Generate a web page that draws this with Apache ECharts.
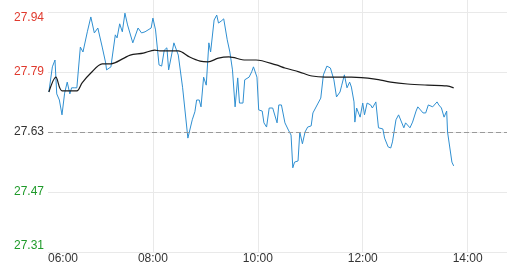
<!DOCTYPE html>
<html>
<head>
<meta charset="utf-8">
<script src="https://cdn.jsdelivr.net/npm/echarts@6/dist/echarts.min.js"></script>
<style>html,body{margin:0;padding:0;background:#fff}#c{width:507px;height:267px}</style>
</head>
<body>
<div id="c"></div>
<script>
// ---- data ----
var prevClose = 27.625;
var tickStep = 0.1575;
var priceTickLabels = ['27.31', '27.47', '27.63', '27.79', '27.94'];
var timeTickLabels = ['06:00', '08:00', '10:00', '12:00', '14:00'];

var priceTimes = ['06:01','06:05','06:08','06:10','06:13','06:16','06:19','06:22','06:25','06:27','06:30','06:33','06:37','06:40','06:45','06:49','06:53','06:55','06:57','07:02','07:06','07:07','07:12','07:13','07:17','07:19','07:22','07:25','07:28','07:31','07:37','07:43','07:47','07:51','07:53','07:58','08:00','08:03','08:07','08:10','08:13','08:16','08:18','08:22','08:24','08:29','08:34','08:40','08:45','08:48','08:50','08:53','08:55','08:58','09:01','09:04','09:06','09:10','09:13','09:15','09:18','09:21','09:25','09:28','09:31','09:34','09:37','09:39','09:43','09:45','09:50','09:53','09:55','09:59','10:01','10:05','10:07','10:10','10:13','10:17','10:22','10:24','10:27','10:31','10:33','10:35','10:38','10:40','10:42','10:46','10:48','10:51','10:54','10:57','11:01','11:03','11:05','11:09','11:12','11:15','11:19','11:23','11:27','11:30','11:34','11:36','11:39','11:42','11:45','11:47','11:50','11:51','11:53','11:57','12:00','12:02','12:05','12:09','12:11','12:15','12:18','12:23','12:25','12:29','12:32','12:34','12:38','12:41','12:43','12:47','12:49','12:54','12:57','13:01','13:03','13:06','13:09','13:12','13:15','13:20','13:25','13:27','13:30','13:33','13:36','13:37','13:42','13:44'];
var priceValues = [27.730,27.796,27.814,27.725,27.709,27.670,27.727,27.756,27.725,27.741,27.741,27.741,27.848,27.835,27.888,27.927,27.885,27.888,27.898,27.848,27.806,27.788,27.796,27.814,27.880,27.872,27.909,27.888,27.937,27.906,27.859,27.898,27.885,27.888,27.885,27.898,27.924,27.893,27.801,27.798,27.840,27.846,27.788,27.835,27.859,27.827,27.741,27.609,27.657,27.678,27.709,27.709,27.691,27.769,27.748,27.859,27.835,27.919,27.932,27.911,27.916,27.922,27.867,27.835,27.788,27.691,27.767,27.701,27.701,27.762,27.769,27.783,27.796,27.769,27.683,27.680,27.649,27.638,27.688,27.688,27.649,27.696,27.696,27.649,27.651,27.630,27.617,27.531,27.546,27.549,27.625,27.594,27.625,27.638,27.641,27.675,27.678,27.701,27.714,27.775,27.798,27.793,27.762,27.717,27.730,27.748,27.775,27.741,27.756,27.743,27.704,27.651,27.688,27.664,27.701,27.670,27.701,27.696,27.688,27.704,27.636,27.633,27.609,27.586,27.583,27.599,27.657,27.670,27.672,27.636,27.649,27.636,27.651,27.680,27.691,27.683,27.675,27.675,27.696,27.691,27.704,27.696,27.688,27.664,27.680,27.625,27.546,27.536];

var avgTimes = ['06:01','06:09','06:16','06:33','06:39','06:49','07:02','07:12','07:27','07:34','07:49','08:02','08:08','08:29','08:42','08:54','09:03','09:15','09:27','09:46','09:58','10:21','10:31','10:47','11:02','11:17','11:47','12:14','12:32','12:51','13:14','13:36','13:44'];
var avgValues = [27.730,27.769,27.733,27.733,27.754,27.780,27.804,27.804,27.819,27.827,27.832,27.840,27.838,27.838,27.822,27.811,27.809,27.819,27.822,27.814,27.814,27.801,27.793,27.783,27.772,27.769,27.769,27.764,27.756,27.751,27.748,27.746,27.741];

// ---- helpers ----
function toMin(t) { var p = t.split(':'); return (+p[0] - 6) * 60 + (+p[1]); }
function toUnit(v) { return (v - prevClose) / tickStep; }
function pairs(times, vals) { return times.map(function (t, i) { return [toMin(t), toUnit(vals[i])]; }); }

var RED = '#e03a2e', GREEN = '#1f9a2a', MID = '#333';
var FONT = 'Liberation Sans, Arial, sans-serif';

var chart = echarts.init(document.getElementById('c'), null, { renderer: 'canvas' });
chart.setOption({
  animation: false,
  grid: { left: 48, right: 0, top: 0, bottom: 15, containLabel: false },
  xAxis: {
    type: 'value', min: 0, max: 525, interval: 120,
    axisLine: { show: false }, axisTick: { show: false },
    axisLabel: {
      margin: 1, color: '#333', fontSize: 12, fontFamily: FONT,
      showMaxLabel: false, alignMinLabel: 'left',
      formatter: function (v) { var i = Math.round(v / 120); return timeTickLabels[i] || ''; }
    },
    splitLine: { show: true, showMinLine: false, showMaxLine: false, lineStyle: { color: '#e9e9e9', width: 1 } }
  },
  yAxis: {
    type: 'value', min: -2, max: 2.2, interval: 1,
    axisLine: { show: false }, axisTick: { show: false },
    axisLabel: {
      margin: 4, fontSize: 12, fontFamily: FONT,
      showMaxLabel: false,
      formatter: function (v) {
        var i = Math.round(v) + 2;
        var s = priceTickLabels[i];
        if (s === undefined) return '';
        if (i === 4) return '{upTop|' + s + '}';
        if (i === 3) return '{up|' + s + '}';
        if (i === 2) return '{mid|' + s + '}';
        if (i === 1) return '{dn|' + s + '}';
        return '{dnBot|' + s + '}';
      },
      rich: {
        upTop: { color: RED, fontSize: 12, fontFamily: FONT, padding: [11, 0, 0, 0] },
        up: { color: RED, fontSize: 12, fontFamily: FONT },
        mid: { color: MID, fontSize: 12, fontFamily: FONT },
        dn: { color: GREEN, fontSize: 12, fontFamily: FONT },
        dnBot: { color: GREEN, fontSize: 12, fontFamily: FONT, padding: [0, 0, 12, 0] }
      }
    },
    splitLine: { show: true, showMaxLine: false, lineStyle: { color: '#e9e9e9', width: 1 } }
  },
  series: [
    {
      type: 'line', data: pairs(priceTimes, priceValues), showSymbol: false,
      lineStyle: { color: '#2f8fd1', width: 1 }, itemStyle: { color: '#2f8fd1' },
      z: 3,
      markLine: {
        silent: true, symbol: ['none', 'none'], label: { show: false },
        lineStyle: { color: '#9a9a9a', type: [5, 3], width: 1 },
        data: [{ yAxis: 0 }]
      }
    },
    {
      type: 'line', data: pairs(avgTimes, avgValues), showSymbol: false, smooth: 0.3,
      lineStyle: { color: '#1a1a1a', width: 1.2 }, itemStyle: { color: '#1a1a1a' }, z: 4
    }
  ]
});
</script>
</body>
</html>
